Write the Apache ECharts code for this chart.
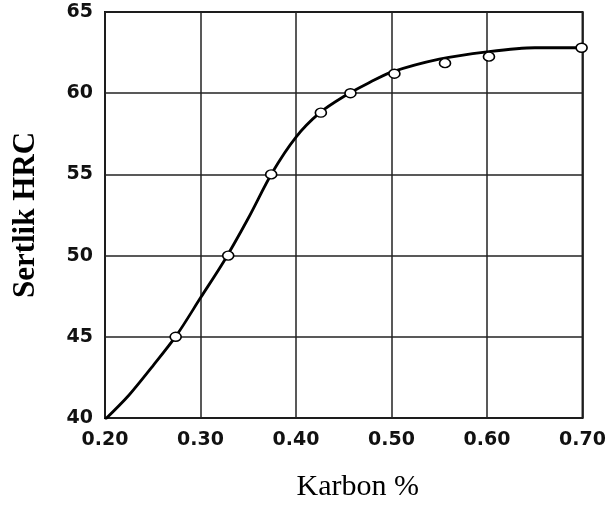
<!DOCTYPE html>
<html>
<head>
<meta charset="utf-8">
<script src="https://cdn.jsdelivr.net/npm/echarts@6/dist/echarts.min.js"></script>
<style>
  html, body { margin: 0; padding: 0; background: #fff; }
  #chart { width: 609px; height: 507px; }
</style>
</head>
<body>
<div id="chart"></div>
<script>
// measured points (open circles)
const pointCarbon = [0.20, 0.274, 0.329, 0.374, 0.426, 0.457, 0.503, 0.556, 0.602, 0.699];
const pointHrc = [39.9, 45.0, 50.0, 55.0, 58.8, 60.0, 61.2, 61.85, 62.25, 62.8];

// fitted curve
const curveCarbon = [0.200, 0.225, 0.250, 0.275, 0.300, 0.325, 0.350, 0.375, 0.400, 0.425, 0.450, 0.475, 0.500, 0.550, 0.600, 0.650, 0.700];
const curveHrc = [39.9, 41.4, 43.2, 45.1, 47.4, 49.7, 52.3, 55.1, 57.3, 58.8, 59.8, 60.6, 61.3, 62.1, 62.55, 62.8, 62.8];

const xTicks = [0.2, 0.3, 0.4, 0.5, 0.6, 0.7];
const yTicks = [40, 45, 50, 55, 60, 65];

const chart = echarts.init(document.getElementById("chart"));

const labelStyle = {
  color: "#111",
  fontFamily: "DejaVu Sans, sans-serif",
  fontSize: 19,
  fontWeight: "bold",
};

chart.setOption({
  animation: false,
  backgroundColor: "#fff",
  grid: { left: 105, right: 25, top: 12, bottom: 87, show: true, borderColor: "#111", borderWidth: 2 },
  xAxis: {
    type: "value",
    min: xTicks[0],
    max: xTicks[xTicks.length - 1],
    interval: 0.1,
    name: "Karbon %",
    nameLocation: "middle",
    nameGap: 54,
    nameTextStyle: {
      fontFamily: "Liberation Serif, Times New Roman, serif",
      fontSize: 30,
      color: "#000",
      padding: [0, 0, 0, 28],
    },
    axisLine: { show: false },
    axisTick: { show: false },
    axisLabel: { ...labelStyle, margin: 13, formatter: (v) => v.toFixed(2) },
    splitLine: { lineStyle: { color: "#222", width: 1.5 } },
  },
  yAxis: {
    type: "value",
    min: yTicks[0],
    max: yTicks[yTicks.length - 1],
    interval: 5,
    name: "Sertlik HRC",
    nameLocation: "middle",
    nameGap: 64,
    nameTextStyle: {
      fontFamily: "Liberation Serif, Times New Roman, serif",
      fontSize: 31,
      fontWeight: "bold",
      color: "#000",
    },
    axisLine: { show: false },
    axisTick: { show: false },
    axisLabel: { ...labelStyle, margin: 12 },
    splitLine: { lineStyle: { color: "#222", width: 1.5 } },
  },
  series: [
    {
      type: "line",
      data: curveCarbon.map((c, i) => [c, curveHrc[i]]),
      smooth: 0.3,
      showSymbol: false,
      lineStyle: { color: "#000", width: 2.8 },
    },
    {
      type: "scatter",
      data: pointCarbon.map((c, i) => [c, pointHrc[i]]),
      symbol: "circle",
      symbolSize: [11, 9],
      itemStyle: { color: "#fff", borderColor: "#000", borderWidth: 1.5, opacity: 1 },
      z: 5,
    },
  ],
});
</script>
</body>
</html>
